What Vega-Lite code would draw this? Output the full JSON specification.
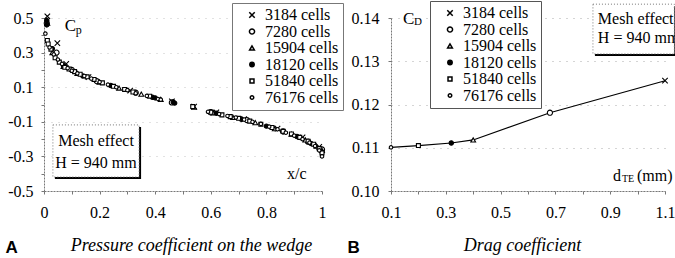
{
  "$schema": "https://vega.github.io/schema/vega-lite/v6.json",
  "background": "white",
  "padding": {"left": 5, "top": 0, "right": 0, "bottom": 0},
  "bounds": "flush",
  "spacing": 69,
  "config": {
    "locale": {"number": {"decimal": ".", "thousands": ",", "grouping": [3], "currency": ["$", ""], "minus": "-"}},
    "view": {"stroke": null},
    "font": "Liberation Serif",
    "axis": {
      "labelFont": "Liberation Serif",
      "labelFontSize": 16,
      "labelColor": "black",
      "domainColor": "#777",
      "domainDash": [2, 1],
      "tickColor": "#777",
      "tickSize": 3,
      "labelOverlap": false,
      "labelFlush": false,
      "labelBound": false,
      "gridDash": [1, 6],
      "gridColor": "#888",
      "gridOpacity": 0.7
    },
    "text": {"font": "Liberation Serif", "color": "black"}
  },
  "datasets": {
    "cp": [
      {"x": 0.012, "cp": 0.51, "mesh": "3184 cells"},
      {"x": 0.048, "cp": 0.355, "mesh": "3184 cells"},
      {"x": 0.08, "cp": 0.235, "mesh": "3184 cells"},
      {"x": 0.16, "cp": 0.158, "mesh": "3184 cells"},
      {"x": 0.31, "cp": 0.08, "mesh": "3184 cells"},
      {"x": 0.46, "cp": 0.018, "mesh": "3184 cells"},
      {"x": 0.54, "cp": -0.012, "mesh": "3184 cells"},
      {"x": 0.62, "cp": -0.045, "mesh": "3184 cells"},
      {"x": 0.72, "cp": -0.085, "mesh": "3184 cells"},
      {"x": 0.84, "cp": -0.14, "mesh": "3184 cells"},
      {"x": 0.93, "cp": -0.19, "mesh": "3184 cells"},
      {"x": 0.99, "cp": -0.245, "mesh": "3184 cells"},
      {"x": 0.01, "cp": 0.47, "mesh": "7280 cells"},
      {"x": 0.045, "cp": 0.3, "mesh": "7280 cells"},
      {"x": 0.1, "cp": 0.2, "mesh": "7280 cells"},
      {"x": 0.19, "cp": 0.135, "mesh": "7280 cells"},
      {"x": 0.33, "cp": 0.068, "mesh": "7280 cells"},
      {"x": 0.46, "cp": 0.012, "mesh": "7280 cells"},
      {"x": 0.6, "cp": -0.045, "mesh": "7280 cells"},
      {"x": 0.73, "cp": -0.09, "mesh": "7280 cells"},
      {"x": 0.86, "cp": -0.155, "mesh": "7280 cells"},
      {"x": 0.95, "cp": -0.215, "mesh": "7280 cells"},
      {"x": 1.0, "cp": -0.26, "mesh": "7280 cells"},
      {"x": 0.012, "cp": 0.47, "mesh": "15904 cells"},
      {"x": 0.03, "cp": 0.3, "mesh": "15904 cells"},
      {"x": 0.07, "cp": 0.22, "mesh": "15904 cells"},
      {"x": 0.12, "cp": 0.18, "mesh": "15904 cells"},
      {"x": 0.2, "cp": 0.13, "mesh": "15904 cells"},
      {"x": 0.27, "cp": 0.095, "mesh": "15904 cells"},
      {"x": 0.35, "cp": 0.06, "mesh": "15904 cells"},
      {"x": 0.42, "cp": 0.03, "mesh": "15904 cells"},
      {"x": 0.54, "cp": -0.015, "mesh": "15904 cells"},
      {"x": 0.61, "cp": -0.048, "mesh": "15904 cells"},
      {"x": 0.68, "cp": -0.075, "mesh": "15904 cells"},
      {"x": 0.76, "cp": -0.105, "mesh": "15904 cells"},
      {"x": 0.83, "cp": -0.14, "mesh": "15904 cells"},
      {"x": 0.89, "cp": -0.172, "mesh": "15904 cells"},
      {"x": 0.94, "cp": -0.205, "mesh": "15904 cells"},
      {"x": 0.98, "cp": -0.24, "mesh": "15904 cells"},
      {"x": 1.0, "cp": -0.265, "mesh": "15904 cells"},
      {"x": 0.01, "cp": 0.485, "mesh": "18120 cells"},
      {"x": 0.01, "cp": 0.46, "mesh": "18120 cells"},
      {"x": 0.03, "cp": 0.323, "mesh": "18120 cells"},
      {"x": 0.07, "cp": 0.225, "mesh": "18120 cells"},
      {"x": 0.14, "cp": 0.165, "mesh": "18120 cells"},
      {"x": 0.24, "cp": 0.11, "mesh": "18120 cells"},
      {"x": 0.39, "cp": 0.042, "mesh": "18120 cells"},
      {"x": 0.4, "cp": 0.038, "mesh": "18120 cells"},
      {"x": 0.465, "cp": 0.014, "mesh": "18120 cells"},
      {"x": 0.47, "cp": 0.008, "mesh": "18120 cells"},
      {"x": 0.6, "cp": -0.042, "mesh": "18120 cells"},
      {"x": 0.62, "cp": -0.05, "mesh": "18120 cells"},
      {"x": 0.71, "cp": -0.085, "mesh": "18120 cells"},
      {"x": 0.8, "cp": -0.125, "mesh": "18120 cells"},
      {"x": 0.86, "cp": -0.158, "mesh": "18120 cells"},
      {"x": 0.91, "cp": -0.185, "mesh": "18120 cells"},
      {"x": 0.96, "cp": -0.225, "mesh": "18120 cells"},
      {"x": 1.0, "cp": -0.275, "mesh": "18120 cells"},
      {"x": 0.012, "cp": 0.37, "mesh": "51840 cells"},
      {"x": 0.015, "cp": 0.35, "mesh": "51840 cells"},
      {"x": 0.025, "cp": 0.32, "mesh": "51840 cells"},
      {"x": 0.04, "cp": 0.27, "mesh": "51840 cells"},
      {"x": 0.055, "cp": 0.245, "mesh": "51840 cells"},
      {"x": 0.075, "cp": 0.215, "mesh": "51840 cells"},
      {"x": 0.09, "cp": 0.205, "mesh": "51840 cells"},
      {"x": 0.11, "cp": 0.19, "mesh": "51840 cells"},
      {"x": 0.13, "cp": 0.175, "mesh": "51840 cells"},
      {"x": 0.155, "cp": 0.16, "mesh": "51840 cells"},
      {"x": 0.18, "cp": 0.145, "mesh": "51840 cells"},
      {"x": 0.21, "cp": 0.125, "mesh": "51840 cells"},
      {"x": 0.25, "cp": 0.105, "mesh": "51840 cells"},
      {"x": 0.29, "cp": 0.087, "mesh": "51840 cells"},
      {"x": 0.32, "cp": 0.072, "mesh": "51840 cells"},
      {"x": 0.38, "cp": 0.048, "mesh": "51840 cells"},
      {"x": 0.535, "cp": -0.012, "mesh": "51840 cells"},
      {"x": 0.6, "cp": -0.045, "mesh": "51840 cells"},
      {"x": 0.64, "cp": -0.06, "mesh": "51840 cells"},
      {"x": 0.67, "cp": -0.07, "mesh": "51840 cells"},
      {"x": 0.7, "cp": -0.08, "mesh": "51840 cells"},
      {"x": 0.74, "cp": -0.096, "mesh": "51840 cells"},
      {"x": 0.78, "cp": -0.114, "mesh": "51840 cells"},
      {"x": 0.82, "cp": -0.133, "mesh": "51840 cells"},
      {"x": 0.86, "cp": -0.155, "mesh": "51840 cells"},
      {"x": 0.89, "cp": -0.17, "mesh": "51840 cells"},
      {"x": 0.92, "cp": -0.19, "mesh": "51840 cells"},
      {"x": 0.95, "cp": -0.212, "mesh": "51840 cells"},
      {"x": 0.97, "cp": -0.23, "mesh": "51840 cells"},
      {"x": 0.99, "cp": -0.255, "mesh": "51840 cells"},
      {"x": 1.0, "cp": -0.28, "mesh": "51840 cells"},
      {"x": 0.005, "cp": 0.41, "mesh": "76176 cells"},
      {"x": 0.02, "cp": 0.33, "mesh": "76176 cells"},
      {"x": 0.035, "cp": 0.29, "mesh": "76176 cells"},
      {"x": 0.05, "cp": 0.26, "mesh": "76176 cells"},
      {"x": 0.065, "cp": 0.235, "mesh": "76176 cells"},
      {"x": 0.085, "cp": 0.21, "mesh": "76176 cells"},
      {"x": 0.1, "cp": 0.195, "mesh": "76176 cells"},
      {"x": 0.12, "cp": 0.18, "mesh": "76176 cells"},
      {"x": 0.145, "cp": 0.165, "mesh": "76176 cells"},
      {"x": 0.17, "cp": 0.15, "mesh": "76176 cells"},
      {"x": 0.2, "cp": 0.13, "mesh": "76176 cells"},
      {"x": 0.23, "cp": 0.115, "mesh": "76176 cells"},
      {"x": 0.26, "cp": 0.1, "mesh": "76176 cells"},
      {"x": 0.3, "cp": 0.083, "mesh": "76176 cells"},
      {"x": 0.33, "cp": 0.065, "mesh": "76176 cells"},
      {"x": 0.37, "cp": 0.05, "mesh": "76176 cells"},
      {"x": 0.41, "cp": 0.032, "mesh": "76176 cells"},
      {"x": 0.42, "cp": 0.028, "mesh": "76176 cells"},
      {"x": 0.59, "cp": -0.042, "mesh": "76176 cells"},
      {"x": 0.63, "cp": -0.055, "mesh": "76176 cells"},
      {"x": 0.66, "cp": -0.066, "mesh": "76176 cells"},
      {"x": 0.69, "cp": -0.075, "mesh": "76176 cells"},
      {"x": 0.72, "cp": -0.087, "mesh": "76176 cells"},
      {"x": 0.75, "cp": -0.1, "mesh": "76176 cells"},
      {"x": 0.78, "cp": -0.112, "mesh": "76176 cells"},
      {"x": 0.81, "cp": -0.128, "mesh": "76176 cells"},
      {"x": 0.84, "cp": -0.143, "mesh": "76176 cells"},
      {"x": 0.87, "cp": -0.163, "mesh": "76176 cells"},
      {"x": 0.9, "cp": -0.18, "mesh": "76176 cells"},
      {"x": 0.93, "cp": -0.2, "mesh": "76176 cells"},
      {"x": 0.955, "cp": -0.22, "mesh": "76176 cells"},
      {"x": 0.975, "cp": -0.24, "mesh": "76176 cells"},
      {"x": 0.99, "cp": -0.265, "mesh": "76176 cells"},
      {"x": 1.0, "cp": -0.3, "mesh": "76176 cells"}
    ],
    "cd": [
      {"d": 0.1, "cd": 0.1101, "mesh": "76176 cells"},
      {"d": 0.2, "cd": 0.1105, "mesh": "51840 cells"},
      {"d": 0.32, "cd": 0.1111, "mesh": "18120 cells"},
      {"d": 0.4, "cd": 0.1118, "mesh": "15904 cells"},
      {"d": 0.68, "cd": 0.1181, "mesh": "7280 cells"},
      {"d": 1.1, "cd": 0.1255, "mesh": "3184 cells"}
    ],
    "one": [{}]
  },
  "resolve": {
    "scale": {"shape": "independent", "fill": "independent", "size": "independent"},
    "legend": {"shape": "independent", "fill": "independent", "size": "independent"}
  },
  "hconcat": [
    {
      "width": 278,
      "height": 173,
      "layer": [
        {
          "data": {"name": "cp"},
          "mark": {"type": "point", "filled": true, "stroke": "black", "strokeWidth": 1.1, "opacity": 1},
          "encoding": {
            "x": {
              "field": "x", "type": "quantitative",
              "scale": {"domain": [0, 1], "nice": false, "zero": false},
              "axis": {
                "values": [0, 0.1, 0.2, 0.3, 0.4, 0.5, 0.6, 0.7, 0.8, 0.9, 1],
                "tickCount": 50,
                "format": "~g",
                "labelExpr": "round(datum.value*10)%2==0 ? datum.label : ''",
                "labelPadding": 10,
                "labelOverlap": false,
                "grid": false,
                "title": "Pressure coefficient on the wedge",
                "titleFont": "Liberation Serif",
                "titleFontStyle": "italic",
                "titleFontWeight": "normal",
                "titleFontSize": 18,
                "titleColor": "black",
                "titleX": 147,
                "titleY": 59,
                "titleAlign": "center",
                "titleBaseline": "alphabetic"
              }
            },
            "y": {
              "field": "cp", "type": "quantitative",
              "scale": {"domain": [-0.5, 0.5], "nice": false, "zero": false},
              "axis": {
                "values": [-0.5, -0.4, -0.3, -0.2, -0.1, 0, 0.1, 0.2, 0.3, 0.4, 0.5],
                "tickCount": 50,
                "format": ".1f",
                "labelExpr": "abs(round(datum.value*10))%2==1 ? datum.label : ''",
                "labelPadding": 8,
                "labelOverlap": false,
                "grid": true,
                "gridOpacity": {"condition": {"test": "abs(round(datum.value*10))%2==1", "value": 0.7}, "value": 0},
                "title": "A",
                "titleFont": "Liberation Sans",
                "titleFontWeight": "bold",
                "titleFontSize": 17,
                "titleColor": "black",
                "titleAngle": 0,
                "titleX": -39,
                "titleY": 234,
                "titleAlign": "left",
                "titleBaseline": "alphabetic"
              }
            },
            "shape": {
              "field": "mesh", "type": "nominal",
              "scale": {
                "domain": ["3184 cells", "7280 cells", "15904 cells", "18120 cells", "51840 cells", "76176 cells"],
                "range": ["M-1,-1L1,1M1,-1L-1,1", "circle", "triangle-up", "circle", "square", "circle"]
              },
              "legend": {
                "orient": "none", "legendX": 188, "legendY": -15, "title": null,
                "labelFont": "Liberation Serif", "labelFontSize": 16, "labelColor": "black",
                "labelExpr": "length(datum.label) < 11 ? ' ' + datum.label : datum.label",
                "padding": 4, "rowPadding": 0.5, "symbolOffset": 8, "labelOffset": 5,
                "strokeColor": "#777", "fillColor": "white",
                "encode": {
                  "legend": {"update": {"strokeDash": {"value": [1, 2]}}},
                  "symbols": {"update": {"stroke": {"value": "black"}, "strokeWidth": {"value": 1.1}}}
                }
              }
            },
            "fill": {
              "field": "mesh", "type": "nominal",
              "scale": {
                "domain": ["3184 cells", "7280 cells", "15904 cells", "18120 cells", "51840 cells", "76176 cells"],
                "range": ["black", "white", "white", "black", "white", "white"]
              },
              "legend": {
                "orient": "none", "legendX": 188, "legendY": -15, "title": null,
                "labelFont": "Liberation Serif", "labelFontSize": 16, "labelColor": "black",
                "labelExpr": "length(datum.label) < 11 ? ' ' + datum.label : datum.label",
                "padding": 4, "rowPadding": 0.5, "symbolOffset": 8, "labelOffset": 5,
                "strokeColor": "#777", "fillColor": "white",
                "encode": {
                  "legend": {"update": {"strokeDash": {"value": [1, 2]}}},
                  "symbols": {"update": {"stroke": {"value": "black"}, "strokeWidth": {"value": 1.1}}}
                }
              }
            },
            "size": {
              "field": "mesh", "type": "nominal",
              "scale": {
                "domain": ["3184 cells", "7280 cells", "15904 cells", "18120 cells", "51840 cells", "76176 cells"],
                "range": [30, 12, 22, 26, 22, 26]
              },
              "legend": {
                "orient": "none", "legendX": 188, "legendY": -15, "title": null,
                "labelFont": "Liberation Serif", "labelFontSize": 16, "labelColor": "black",
                "labelExpr": "length(datum.label) < 11 ? ' ' + datum.label : datum.label",
                "padding": 4, "rowPadding": 0.5, "symbolOffset": 8, "labelOffset": 5,
                "strokeColor": "#777", "fillColor": "white",
                "encode": {
                  "legend": {"update": {"strokeDash": {"value": [1, 2]}}},
                  "symbols": {"update": {"stroke": {"value": "black"}, "strokeWidth": {"value": 1.1}}}
                }
              }
            }
          }
        },
        {
          "data": {"name": "one"},
          "mark": {"type": "rect", "fill": "black", "xOffset": 2, "x2Offset": 2, "yOffset": 2, "y2Offset": 2},
          "encoding": {
            "x": {"datum": 0.032, "type": "quantitative"},
            "x2": {"datum": 0.342},
            "y": {"datum": -0.118, "type": "quantitative"},
            "y2": {"datum": -0.419}
          }
        },
        {
          "data": {"name": "one"},
          "mark": {"type": "rect", "fill": "white", "stroke": "#777", "strokeWidth": 1, "strokeDash": [1, 2]},
          "encoding": {
            "x": {"datum": 0.032, "type": "quantitative"},
            "x2": {"datum": 0.342},
            "y": {"datum": -0.118, "type": "quantitative"},
            "y2": {"datum": -0.419}
          }
        },
        {
          "data": {"name": "one"},
          "mark": {"type": "text", "text": "Mesh effect", "fontSize": 16, "align": "center", "baseline": "middle"},
          "encoding": {"x": {"datum": 0.187, "type": "quantitative"}, "y": {"datum": -0.211, "type": "quantitative"}}
        },
        {
          "data": {"name": "one"},
          "mark": {"type": "text", "text": "H = 940 mm", "fontSize": 16, "align": "center", "baseline": "middle"},
          "encoding": {"x": {"datum": 0.187, "type": "quantitative"}, "y": {"datum": -0.338, "type": "quantitative"}}
        },
        {
          "data": {"name": "one"},
          "mark": {"type": "text", "text": "C", "fontSize": 17, "align": "left", "baseline": "middle"},
          "encoding": {"x": {"datum": 0.075, "type": "quantitative"}, "y": {"datum": 0.454, "type": "quantitative"}}
        },
        {
          "data": {"name": "one"},
          "mark": {"type": "text", "text": "p", "fontSize": 12, "align": "left", "baseline": "middle", "dx": 11, "dy": 4},
          "encoding": {"x": {"datum": 0.075, "type": "quantitative"}, "y": {"datum": 0.454, "type": "quantitative"}}
        },
        {
          "data": {"name": "one"},
          "mark": {"type": "text", "text": "x/c", "fontSize": 16, "align": "left", "baseline": "middle"},
          "encoding": {"x": {"datum": 0.874, "type": "quantitative"}, "y": {"datum": -0.402, "type": "quantitative"}}
        }
      ]
    },
    {
      "width": 274,
      "height": 173,
      "layer": [
        {
          "data": {"name": "cd"},
          "mark": {"type": "line", "color": "black", "strokeWidth": 1.2},
          "encoding": {
            "x": {
              "field": "d", "type": "quantitative",
              "scale": {"domain": [0.1, 1.1], "nice": false, "zero": false},
              "axis": {
                "values": [0.1, 0.2, 0.3, 0.4, 0.5, 0.6, 0.7, 0.8, 0.9, 1.0, 1.1],
                "tickCount": 50,
                "format": ".1f",
                "labelExpr": "round(datum.value*10)%2==1 ? datum.label : ''",
                "labelPadding": 10,
                "labelOverlap": false,
                "grid": false,
                "title": "Drag coefficient",
                "titleFont": "Liberation Serif",
                "titleFontStyle": "italic",
                "titleFontWeight": "normal",
                "titleFontSize": 18,
                "titleColor": "black",
                "titleX": 131,
                "titleY": 59,
                "titleAlign": "center",
                "titleBaseline": "alphabetic"
              }
            },
            "y": {
              "field": "cd", "type": "quantitative",
              "scale": {"domain": [0.1, 0.14], "nice": false, "zero": false},
              "axis": {
                "values": [0.1, 0.11, 0.12, 0.13, 0.14],
                "tickCount": 50,
                "format": ".2f",
                "labelPadding": 9,
                "labelOverlap": false,
                "grid": true,
                "title": "B",
                "titleFont": "Liberation Sans",
                "titleFontWeight": "bold",
                "titleFontSize": 17,
                "titleColor": "black",
                "titleAngle": 0,
                "titleX": -44,
                "titleY": 234,
                "titleAlign": "left",
                "titleBaseline": "alphabetic"
              }
            }
          }
        },
        {
          "data": {"name": "cd"},
          "mark": {"type": "point", "filled": true, "stroke": "black", "strokeWidth": 1.1, "opacity": 1},
          "encoding": {
            "x": {"field": "d", "type": "quantitative"},
            "y": {"field": "cd", "type": "quantitative"},
            "shape": {
              "field": "mesh", "type": "nominal",
              "scale": {
                "domain": ["3184 cells", "7280 cells", "15904 cells", "18120 cells", "51840 cells", "76176 cells"],
                "range": ["M-1,-1L1,1M1,-1L-1,1", "circle", "triangle-up", "circle", "square", "circle"]
              },
              "legend": {
                "orient": "none", "legendX": 39, "legendY": -17, "title": null,
                "labelFont": "Liberation Serif", "labelFontSize": 16, "labelColor": "black",
                "labelExpr": "length(datum.label) < 11 ? ' ' + datum.label : datum.label",
                "padding": 4, "rowPadding": 0.5, "symbolOffset": 8, "labelOffset": 5,
                "strokeColor": "#555", "fillColor": "white",
                "encode": {"symbols": {"update": {"stroke": {"value": "black"}, "strokeWidth": {"value": 1.1}}}}
              }
            },
            "fill": {
              "field": "mesh", "type": "nominal",
              "scale": {
                "domain": ["3184 cells", "7280 cells", "15904 cells", "18120 cells", "51840 cells", "76176 cells"],
                "range": ["black", "white", "white", "black", "white", "white"]
              },
              "legend": {
                "orient": "none", "legendX": 39, "legendY": -17, "title": null,
                "labelFont": "Liberation Serif", "labelFontSize": 16, "labelColor": "black",
                "labelExpr": "length(datum.label) < 11 ? ' ' + datum.label : datum.label",
                "padding": 4, "rowPadding": 0.5, "symbolOffset": 8, "labelOffset": 5,
                "strokeColor": "#555", "fillColor": "white",
                "encode": {"symbols": {"update": {"stroke": {"value": "black"}, "strokeWidth": {"value": 1.1}}}}
              }
            },
            "size": {
              "field": "mesh", "type": "nominal",
              "scale": {
                "domain": ["3184 cells", "7280 cells", "15904 cells", "18120 cells", "51840 cells", "76176 cells"],
                "range": [30, 12, 22, 26, 22, 26]
              },
              "legend": {
                "orient": "none", "legendX": 39, "legendY": -17, "title": null,
                "labelFont": "Liberation Serif", "labelFontSize": 16, "labelColor": "black",
                "labelExpr": "length(datum.label) < 11 ? ' ' + datum.label : datum.label",
                "padding": 4, "rowPadding": 0.5, "symbolOffset": 8, "labelOffset": 5,
                "strokeColor": "#555", "fillColor": "white",
                "encode": {"symbols": {"update": {"stroke": {"value": "black"}, "strokeWidth": {"value": 1.1}}}}
              }
            }
          }
        },
        {
          "data": {"name": "one"},
          "mark": {"type": "rect", "fill": "black", "xOffset": 2, "x2Offset": 2, "yOffset": 2, "y2Offset": 2},
          "encoding": {
            "x": {"datum": 0.837, "type": "quantitative"},
            "x2": {"datum": 1.134},
            "y": {"datum": 0.1432, "type": "quantitative"},
            "y2": {"datum": 0.1317}
          }
        },
        {
          "data": {"name": "one"},
          "mark": {"type": "rect", "fill": "white", "stroke": "#777", "strokeWidth": 1, "strokeDash": [1, 2]},
          "encoding": {
            "x": {"datum": 0.837, "type": "quantitative"},
            "x2": {"datum": 1.134},
            "y": {"datum": 0.1432, "type": "quantitative"},
            "y2": {"datum": 0.1317}
          }
        },
        {
          "data": {"name": "one"},
          "mark": {"type": "text", "text": "Mesh effect", "fontSize": 16, "align": "left", "baseline": "middle"},
          "encoding": {"x": {"datum": 0.855, "type": "quantitative"}, "y": {"datum": 0.1398, "type": "quantitative"}}
        },
        {
          "data": {"name": "one"},
          "mark": {"type": "text", "text": "H = 940 mm", "fontSize": 16, "align": "left", "baseline": "middle"},
          "encoding": {"x": {"datum": 0.855, "type": "quantitative"}, "y": {"datum": 0.1354, "type": "quantitative"}}
        },
        {
          "data": {"name": "one"},
          "mark": {"type": "text", "text": "C", "fontSize": 17, "align": "left", "baseline": "middle"},
          "encoding": {"x": {"datum": 0.144, "type": "quantitative"}, "y": {"datum": 0.1398, "type": "quantitative"}}
        },
        {
          "data": {"name": "one"},
          "mark": {"type": "text", "text": "D", "fontSize": 11, "align": "left", "baseline": "middle", "dx": 11, "dy": 3},
          "encoding": {"x": {"datum": 0.144, "type": "quantitative"}, "y": {"datum": 0.1398, "type": "quantitative"}}
        },
        {
          "data": {"name": "one"},
          "mark": {"type": "text", "text": "d", "fontSize": 16, "align": "left", "baseline": "middle"},
          "encoding": {"x": {"datum": 0.91, "type": "quantitative"}, "y": {"datum": 0.1034, "type": "quantitative"}}
        },
        {
          "data": {"name": "one"},
          "mark": {"type": "text", "text": "TE", "fontSize": 10, "align": "left", "baseline": "middle", "dx": 9, "dy": 3},
          "encoding": {"x": {"datum": 0.91, "type": "quantitative"}, "y": {"datum": 0.1034, "type": "quantitative"}}
        },
        {
          "data": {"name": "one"},
          "mark": {"type": "text", "text": "(mm)", "fontSize": 16, "align": "left", "baseline": "middle", "dx": 24},
          "encoding": {"x": {"datum": 0.91, "type": "quantitative"}, "y": {"datum": 0.1034, "type": "quantitative"}}
        }
      ]
    }
  ]
}
